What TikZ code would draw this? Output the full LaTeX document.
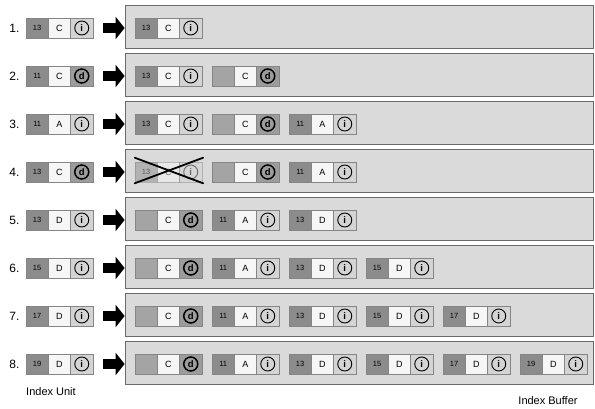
\documentclass[tikz,border=0pt]{standalone}
\usepackage{fontspec}
\setmainfont{Liberation Sans}
\usetikzlibrary{arrows.meta}
\definecolor{numgray}{HTML}{8C8C8C}
\definecolor{blankgray}{HTML}{A4A4A4}
\definecolor{celli}{HTML}{D4D4D4}
\definecolor{celld}{HTML}{9C9C9C}
\definecolor{cellborder}{HTML}{858585}
\definecolor{panelfill}{HTML}{DADADA}
\definecolor{panelborder}{HTML}{6A6A6A}
\definecolor{lettercell}{HTML}{F6F6F6}
\newcommand\iunit[7]{%
  \node[cell, fill=#7, font=\fontsize{7.5}{8}\selectfont] (#1n) at ({#2+11.15},#3) {#4};
  \node[cell, fill=lettercell, font=\fontsize{9}{9}\selectfont] (#1l) at ({#2+33.45},#3) {#5};
  \node[cell, fill=cell#6] (#1c) at ({#2+55.75},#3) {};
  \node[circ#6] (#1o) at (#1c) {#6};
}
\begin{document}
\begin{tikzpicture}[x=1pt,y=-1pt,
  cell/.style={draw=cellborder, line width=0.6pt, minimum width=22.3pt, minimum height=20pt, inner sep=0pt},
  circi/.style={circle, draw=black, line width=0.9pt, minimum size=14pt, inner sep=0pt, font=\bfseries\fontsize{9.5}{9.5}\selectfont},
  circd/.style={circle, draw=black, line width=1.5pt, minimum size=14pt, inner sep=0pt, font=\bfseries\fontsize{9.5}{9.5}\selectfont},
  panel/.style={draw=panelborder, fill=panelfill, line width=0.7pt, minimum width=468pt, minimum height=43pt, inner sep=0pt},
  fatarrow/.style={line width=10pt, -{Triangle[length=9pt,width=22pt]}},
  rowlbl/.style={anchor=east, font=\fontsize{12}{13}\selectfont},
  caption/.style={font=\fontsize{11}{12}\selectfont},
  cross/.style={line width=1.8pt, line cap=round}
]
\useasboundingbox (0,0) rectangle (595,409);

% Row 1
\node[rowlbl] (l1) at (23,28) {1.};
\iunit{a1}{26}{28}{13}{C}{i}{numgray}
\node[panel] (p1) at (359,27) {};
\draw[fatarrow] ([xshift=10pt]a1c.east) -- (p1.west |- a1c.center);
\iunit{b1a}{135}{28}{13}{C}{i}{numgray}

% Row 2
\node[rowlbl] (l2) at (23,76) {2.};
\iunit{a2}{26}{76}{11}{C}{d}{numgray}
\node[panel] (p2) at (359,75) {};
\draw[fatarrow] ([xshift=10pt]a2c.east) -- (p2.west |- a2c.center);
\iunit{b2a}{135}{76}{13}{C}{i}{numgray}
\iunit{b2b}{212}{76}{}{C}{d}{blankgray}

% Row 3
\node[rowlbl] (l3) at (23,124) {3.};
\iunit{a3}{26}{124}{11}{A}{i}{numgray}
\node[panel] (p3) at (359,123) {};
\draw[fatarrow] ([xshift=10pt]a3c.east) -- (p3.west |- a3c.center);
\iunit{b3a}{135}{124}{13}{C}{i}{numgray}
\iunit{b3b}{212}{124}{}{C}{d}{blankgray}
\iunit{b3c}{289}{124}{11}{A}{i}{numgray}

% Row 4
\node[rowlbl] (l4) at (23,172) {4.};
\iunit{a4}{26}{172}{13}{C}{d}{numgray}
\node[panel] (p4) at (359,171) {};
\draw[fatarrow] ([xshift=10pt]a4c.east) -- (p4.west |- a4c.center);
\begin{scope}[opacity=0.5]
\iunit{b4a}{135}{172}{13}{C}{i}{numgray}
\end{scope}
\iunit{b4b}{212}{172}{}{C}{d}{blankgray}
\iunit{b4c}{289}{172}{11}{A}{i}{numgray}
\draw[cross] ([shift={(0,-4)}]b4an.north west) -- ([shift={(1,1)}]b4ac.south east);
\draw[cross] ([shift={(0,1)}]b4an.south west) -- ([shift={(1,-4)}]b4ac.north east);

% Row 5
\node[rowlbl] (l5) at (23,220) {5.};
\iunit{a5}{26}{220}{13}{D}{i}{numgray}
\node[panel] (p5) at (359,219) {};
\draw[fatarrow] ([xshift=10pt]a5c.east) -- (p5.west |- a5c.center);
\iunit{b5a}{135}{220}{}{C}{d}{blankgray}
\iunit{b5b}{212}{220}{11}{A}{i}{numgray}
\iunit{b5c}{289}{220}{13}{D}{i}{numgray}

% Row 6
\node[rowlbl] (l6) at (23,268) {6.};
\iunit{a6}{26}{268}{15}{D}{i}{numgray}
\node[panel] (p6) at (359,267) {};
\draw[fatarrow] ([xshift=10pt]a6c.east) -- (p6.west |- a6c.center);
\iunit{b6a}{135}{268}{}{C}{d}{blankgray}
\iunit{b6b}{212}{268}{11}{A}{i}{numgray}
\iunit{b6c}{289}{268}{13}{D}{i}{numgray}
\iunit{b6d}{366}{268}{15}{D}{i}{numgray}

% Row 7
\node[rowlbl] (l7) at (23,316) {7.};
\iunit{a7}{26}{316}{17}{D}{i}{numgray}
\node[panel] (p7) at (359,315) {};
\draw[fatarrow] ([xshift=10pt]a7c.east) -- (p7.west |- a7c.center);
\iunit{b7a}{135}{316}{}{C}{d}{blankgray}
\iunit{b7b}{212}{316}{11}{A}{i}{numgray}
\iunit{b7c}{289}{316}{13}{D}{i}{numgray}
\iunit{b7d}{366}{316}{15}{D}{i}{numgray}
\iunit{b7e}{443}{316}{17}{D}{i}{numgray}

% Row 8
\node[rowlbl] (l8) at (23,364) {8.};
\iunit{a8}{26}{364}{19}{D}{i}{numgray}
\node[panel] (p8) at (359,363) {};
\draw[fatarrow] ([xshift=10pt]a8c.east) -- (p8.west |- a8c.center);
\iunit{b8a}{135}{364}{}{C}{d}{blankgray}
\iunit{b8b}{212}{364}{11}{A}{i}{numgray}
\iunit{b8c}{289}{364}{13}{D}{i}{numgray}
\iunit{b8d}{366}{364}{15}{D}{i}{numgray}
\iunit{b8e}{443}{364}{17}{D}{i}{numgray}
\iunit{b8f}{520}{364}{19}{D}{i}{numgray}

\node[caption] (cu) at (51,392) {Index Unit};
\node[caption] (cb) at (548,401) {Index Buffer};
\end{tikzpicture}
\end{document}
